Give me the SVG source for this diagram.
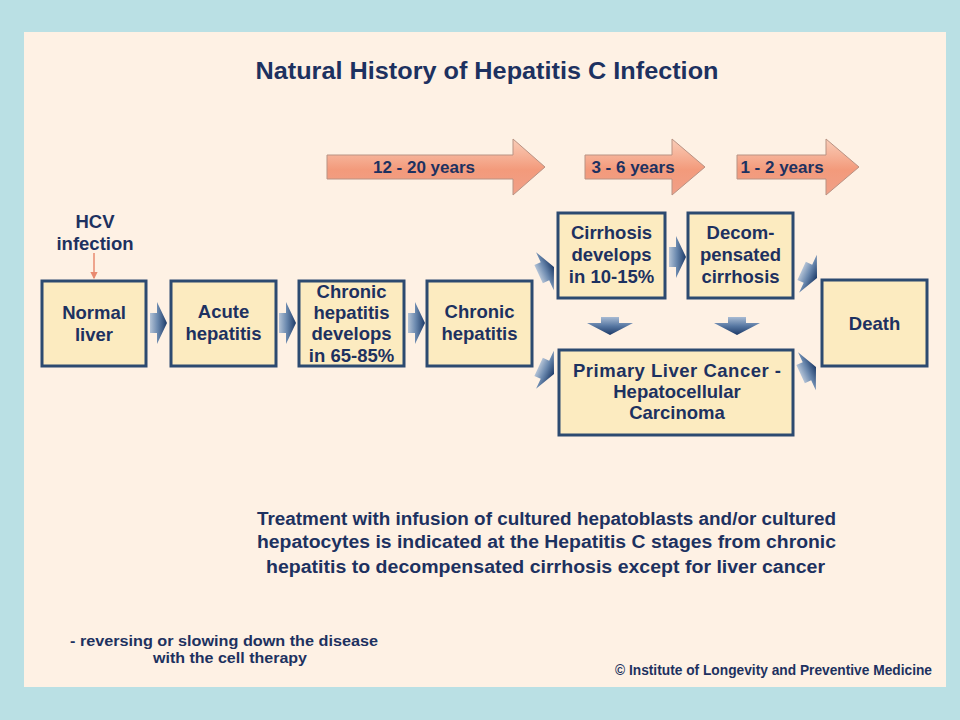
<svg xmlns="http://www.w3.org/2000/svg" width="960" height="720" viewBox="0 0 960 720">
<defs>
<style>
.t{font-family:"Liberation Sans",Arial,sans-serif;font-weight:bold;fill:#1d3160}
.n{font-size:18.5px;text-anchor:middle}
.box{fill:#fcebc0;stroke:#2c4a70;stroke-width:3}
.ya{font-size:17px;text-anchor:middle}
.ta{fill:url(#gT);stroke:#b99283;stroke-width:1}
.ra{fill:url(#gR)}
.da{fill:url(#gD)}
</style>
<linearGradient id="gT" x1="0" y1="0" x2="0" y2="1">
<stop offset="0" stop-color="#f9cdb8"/>
<stop offset="0.55" stop-color="#f39a7b"/>
<stop offset="1" stop-color="#f0a088"/>
</linearGradient>
<linearGradient id="gR" x1="0" y1="0" x2="1" y2="0">
<stop offset="0" stop-color="#b4c3d6"/>
<stop offset="0.45" stop-color="#6a88ae"/>
<stop offset="1" stop-color="#1c3a68"/>
</linearGradient>
<linearGradient id="gD" x1="0" y1="0" x2="0" y2="1">
<stop offset="0" stop-color="#a8bbd3"/>
<stop offset="0.5" stop-color="#5777a2"/>
<stop offset="1" stop-color="#1c3a68"/>
</linearGradient>
<path id="ra" d="M-17,-10 L-10,-10 L-10,-21 L0,0 L-10,21 L-10,10 L-17,10 Z"/>
<path id="da" d="M-9,-18 L9,-18 L9,-12 L23,-12 L0,0 L-23,-12 L-9,-12 Z"/>
<marker id="mh" viewBox="0 0 6 6" refX="5" refY="3" markerWidth="5" markerHeight="5" orient="auto">
<path d="M0,0 L6,3 L0,6 Z" fill="#e98a70"/>
</marker>
</defs>
<rect x="0" y="0" width="960" height="720" fill="#bae0e4"/>
<rect x="24" y="32" width="922" height="655" fill="#fef1e4"/>
<text class="t" x="487" y="79" font-size="24" text-anchor="middle" textLength="463" lengthAdjust="spacingAndGlyphs">Natural History of Hepatitis C Infection</text>

<g id="timeline">
<path class="ta" d="M327,155 L513,155 L513,139 L545,167 L513,195 L513,179 L327,179 Z"/>
<text class="t ya" x="424" y="173">12 - 20 years</text>
<path class="ta" d="M585,155 L672,155 L672,139 L705,167 L672,195 L672,179 L585,179 Z"/>
<text class="t ya" x="633" y="173">3 - 6 years</text>
<path class="ta" d="M737,155 L826,155 L826,139 L859,167 L826,195 L826,179 L737,179 Z"/>
<text class="t ya" x="782" y="173">1 - 2 years</text>
</g>

<g id="hcv">
<text class="t n" x="95" y="228">HCV</text>
<text class="t n" x="95" y="250">infection</text>
</g>

<g id="normal">
<rect class="box" x="42" y="281" width="104" height="85"/>
<text class="t n" x="94" y="319">Normal</text>
<text class="t n" x="94" y="341">liver</text>
</g>
<g id="acute">
<rect class="box" x="171" y="281" width="105" height="85"/>
<text class="t n" x="223.5" y="318">Acute</text>
<text class="t n" x="223.5" y="340">hepatitis</text>
</g>
<g id="chronicdev">
<rect class="box" x="299" y="281" width="105" height="85"/>
<text class="t n" x="351.5" y="298">Chronic</text>
<text class="t n" x="351.5" y="319">hepatitis</text>
<text class="t n" x="351.5" y="340">develops</text>
<text class="t n" x="351.5" y="362">in 65-85%</text>
</g>
<g id="chronic">
<rect class="box" x="427" y="281" width="105" height="85"/>
<text class="t n" x="479.5" y="318">Chronic</text>
<text class="t n" x="479.5" y="340">hepatitis</text>
</g>
<g id="cirrhosis">
<rect class="box" x="558" y="213" width="107" height="85"/>
<text class="t n" x="611.5" y="239">Cirrhosis</text>
<text class="t n" x="611.5" y="261">develops</text>
<text class="t n" x="611.5" y="283">in 10-15%</text>
</g>
<g id="decompensated">
<rect class="box" x="688" y="213" width="105" height="85"/>
<text class="t n" x="740.5" y="239">Decom-</text>
<text class="t n" x="740.5" y="261">pensated</text>
<text class="t n" x="740.5" y="283">cirrhosis</text>
</g>
<g id="death">
<rect class="box" x="822" y="280" width="105" height="86"/>
<text class="t n" x="874.5" y="330">Death</text>
</g>
<g id="cancer">
<rect class="box" x="559" y="350" width="234" height="85"/>
<text class="t n" x="677" y="377" textLength="208" lengthAdjust="spacing">Primary Liver Cancer -</text>
<text class="t n" x="677" y="398">Hepatocellular</text>
<text class="t n" x="677" y="419">Carcinoma</text>
</g>

<g id="connectors">
<line x1="94" y1="253" x2="94" y2="278" stroke="#e98a70" stroke-width="1.5" marker-end="url(#mh)"/>
<use href="#ra" class="ra" transform="translate(167,323)"/>
<use href="#ra" class="ra" transform="translate(296,323)"/>
<use href="#ra" class="ra" transform="translate(425,323)"/>
<use href="#ra" class="ra" transform="translate(686,257)"/>
<use href="#ra" class="ra" transform="translate(554,267) rotate(-25)"/>
<use href="#ra" class="ra" transform="translate(554,374) rotate(25)"/>
<use href="#ra" class="ra" transform="translate(817,278) rotate(25)"/>
<use href="#ra" class="ra" transform="translate(816,367) rotate(-25)"/>
<use href="#da" class="da" transform="translate(610,335)"/>
<use href="#da" class="da" transform="translate(737,335)"/>
</g>

<g id="notes">
<text class="t" x="257" y="525" font-size="18" textLength="579" lengthAdjust="spacingAndGlyphs">Treatment with infusion of cultured hepatoblasts and/or cultured</text>
<text class="t" x="257" y="548" font-size="18" textLength="579" lengthAdjust="spacingAndGlyphs">hepatocytes is indicated at the Hepatitis C stages from chronic</text>
<text class="t" x="266" y="573" font-size="18" textLength="559" lengthAdjust="spacingAndGlyphs">hepatitis to decompensated cirrhosis except for liver cancer</text>
<text class="t" x="70" y="646" font-size="15.5" textLength="308" lengthAdjust="spacingAndGlyphs">- reversing or slowing down the disease</text>
<text class="t" x="153" y="663" font-size="15.5" textLength="154" lengthAdjust="spacingAndGlyphs">with the cell therapy</text>
<text class="t" x="615" y="675" font-size="14.5" textLength="317" lengthAdjust="spacingAndGlyphs">© Institute of Longevity and Preventive Medicine</text>
</g>
</svg>
